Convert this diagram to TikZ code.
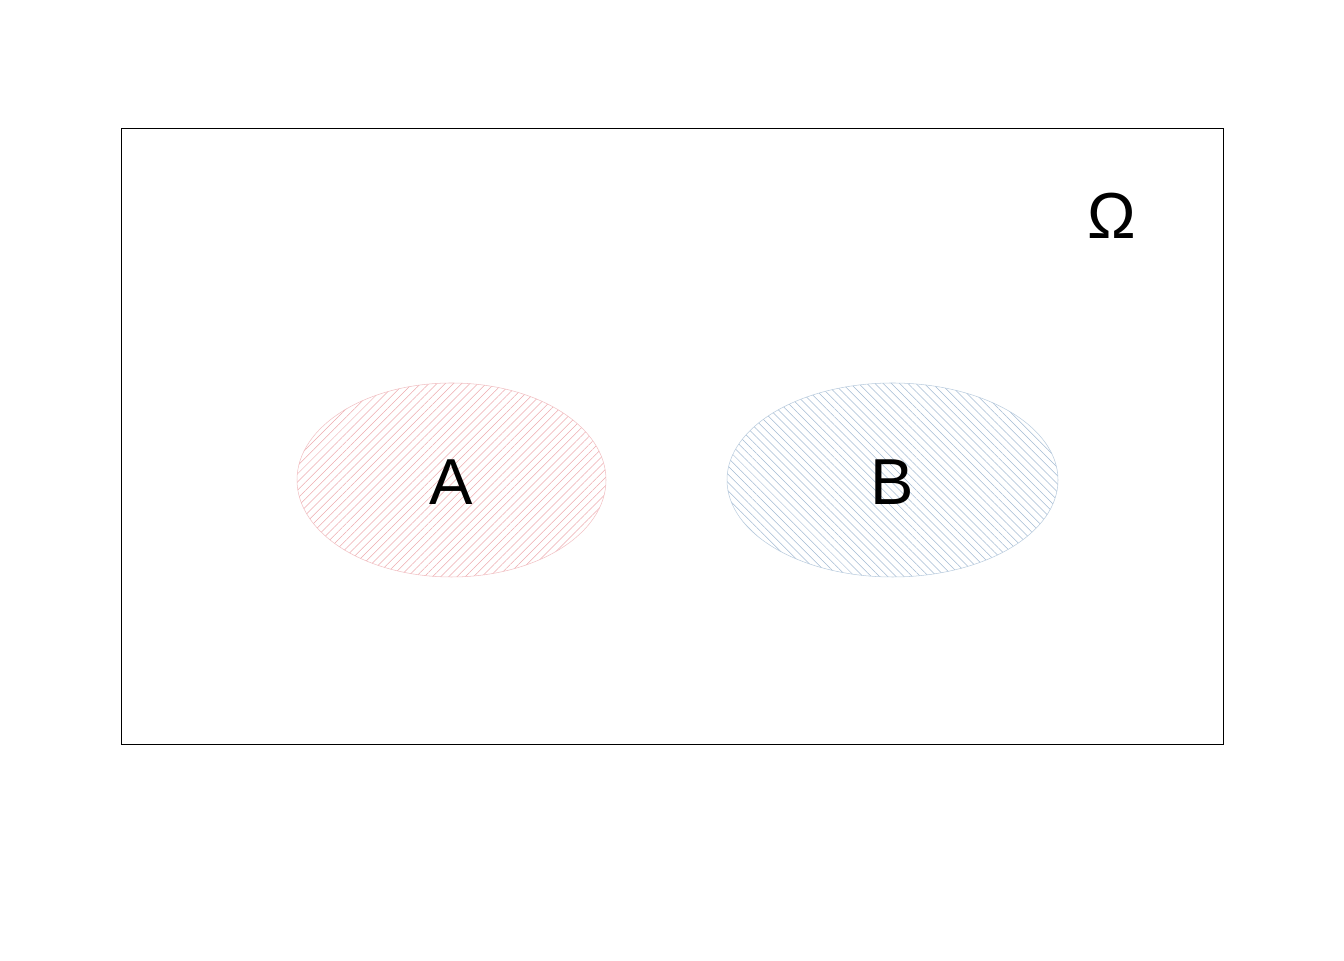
\documentclass[tikz,border=0pt]{standalone}
\usepackage{fontspec}
\setmainfont{Liberation Sans}
\usetikzlibrary{shapes.geometric,patterns.meta}
\definecolor{pinkA}{RGB}{232,150,155}
\definecolor{blueB}{RGB}{140,170,200}
\tikzset{
  setA/.style={ellipse, inner sep=0pt, draw=pinkA!60, line width=0.3pt,
    pattern={Lines[angle=45,distance=3.3pt,line width=0.3pt]}, pattern color=pinkA!80},
  setB/.style={ellipse, inner sep=0pt, draw=blueB!60, line width=0.3pt,
    pattern={Lines[angle=-45,distance=3.3pt,line width=0.3pt]}, pattern color=blueB!80},
  biglabel/.style={font=\fontsize{37}{40}\selectfont, inner sep=0pt}
}
\begin{document}
\begin{tikzpicture}
    \useasboundingbox (0,0) rectangle (26.88,19.2);

    %sample space
    \draw[line width=0.5pt] (2.42,4.32) rectangle (24.46,16.64);
    \node[biglabel] (omega) at (22.24,14.88) {Ω};

    %events
    \node[setA, minimum width=6.18cm, minimum height=3.88cm] (A) at (9.03,9.6) {};
    \node[setB, minimum width=6.62cm, minimum height=3.88cm] (B) at (17.85,9.6) {};

    %labels
    \node[biglabel] (labA) at (9.02,9.56) {A};
    \node[biglabel] (labB) at (17.84,9.56) {B};
\end{tikzpicture}
\end{document}
